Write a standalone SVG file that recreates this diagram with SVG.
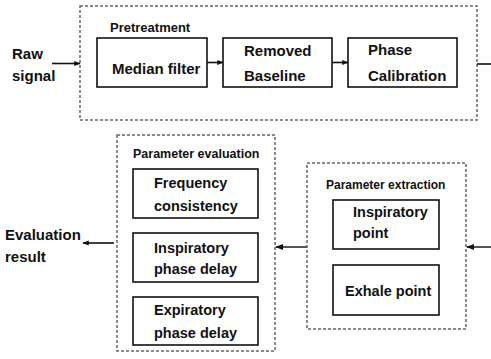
<svg xmlns="http://www.w3.org/2000/svg" width="491" height="359" viewBox="0 0 491 359">
<style>
text{font-family:"Liberation Sans",Arial,sans-serif;font-weight:bold;fill:#111}
.big{font-size:15px}
.mid{font-size:14.5px}
.lbl{font-size:12.5px}
.grp{fill:none;stroke:#666;stroke-width:1.5;stroke-dasharray:3 2}
.box{fill:#fff;stroke:#111;stroke-width:1.6}
.con{fill:none;stroke:#111;stroke-width:1.6}
.cong{fill:none;stroke:#555;stroke-width:2}
</style>
<defs>
<marker id="ah" viewBox="0 0 10 10" refX="9" refY="5" markerWidth="4" markerHeight="4" orient="auto" markerUnits="strokeWidth">
<path d="M0,1 L10,5 L0,9 z" fill="#111"/>
</marker>
</defs>
<rect width="491" height="359" fill="#fff"/>

<g id="pretreatment">
<rect class="grp" x="80" y="6" width="397" height="114"/>
<text class="lbl" x="110" y="32" style="font-size:13px">Pretreatment</text>
</g>
<g id="median-filter">
<rect class="box" x="97" y="38" width="110" height="49"/>
<text class="big" x="112" y="74">Median filter</text>
</g>
<g id="removed-baseline">
<rect class="box" x="223" y="38" width="109" height="49"/>
<text class="big" x="244" y="56">Removed</text>
<text class="big" x="244" y="81">Baseline</text>
</g>
<g id="phase-calibration">
<rect class="box" x="348" y="38" width="109" height="49"/>
<text class="big" x="368" y="55">Phase</text>
<text class="big" x="368" y="81">Calibration</text>
</g>
<g id="raw-signal">
<text class="big" x="12" y="59">Raw</text>
<text class="big" x="12" y="81">signal</text>
</g>

<g id="parameter-evaluation">
<rect class="grp" x="117" y="135" width="158" height="216"/>
<text class="lbl" x="133" y="158">Parameter evaluation</text>
</g>
<g id="frequency-consistency">
<rect class="box" x="133" y="169" width="125" height="49"/>
<text class="mid" x="154" y="188">Frequency</text>
<text class="mid" x="154" y="211">consistency</text>
</g>
<g id="inspiratory-phase-delay">
<rect class="box" x="133" y="233" width="125" height="49"/>
<text class="mid" x="154" y="253">Inspiratory</text>
<text class="mid" x="154" y="274">phase delay</text>
</g>
<g id="expiratory-phase-delay">
<rect class="box" x="133" y="297" width="125" height="48"/>
<text class="mid" x="154" y="315">Expiratory</text>
<text class="mid" x="154" y="338">phase delay</text>
</g>
<g id="evaluation-result">
<text class="big" x="5" y="240">Evaluation</text>
<text class="big" x="5" y="262">result</text>
</g>

<g id="parameter-extraction">
<rect class="grp" x="307" y="163" width="159" height="166"/>
<text class="lbl" x="326" y="189" style="font-size:12px">Parameter extraction</text>
</g>
<g id="inspiratory-point">
<rect class="box" x="333" y="200" width="106" height="49"/>
<text class="mid" x="353" y="217">Inspiratory</text>
<text class="mid" x="353" y="238">point</text>
</g>
<g id="exhale-point">
<rect class="box" x="333" y="265" width="106" height="50"/>
<text class="mid" x="345" y="296">Exhale point</text>
</g>

<g id="connectors">
<line class="con" x1="52" y1="63.5" x2="80" y2="63.5" marker-end="url(#ah)"/>
<line class="con" x1="207" y1="62.5" x2="223" y2="62.5" marker-end="url(#ah)"/>
<line class="con" x1="332" y1="62.5" x2="348" y2="62.5" marker-end="url(#ah)"/>
<line class="con" x1="477" y1="64" x2="491" y2="64"/>
<line class="cong" x1="491" y1="247" x2="467" y2="247" marker-end="url(#ah)"/>
<line class="cong" x1="307" y1="247" x2="276" y2="247" marker-end="url(#ah)"/>
<line class="con" x1="114" y1="243" x2="83" y2="243" marker-end="url(#ah)"/>
</g>
</svg>
